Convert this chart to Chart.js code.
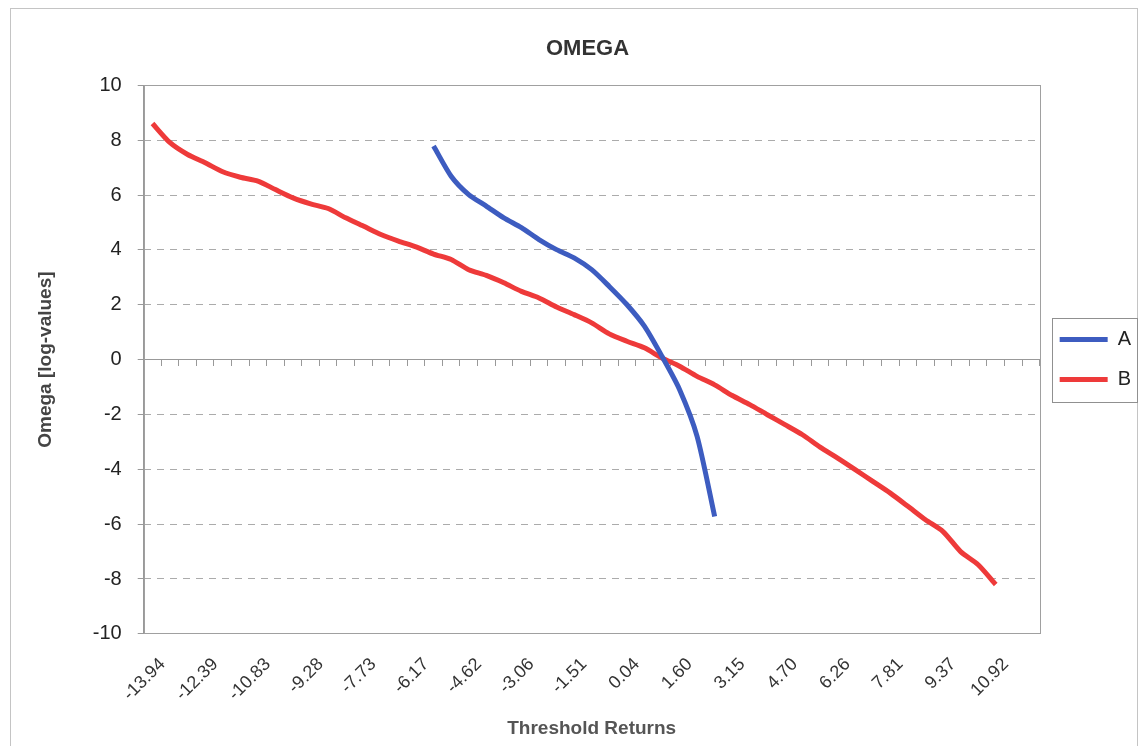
<!DOCTYPE html>
<html>
<head>
<meta charset="utf-8">
<title>OMEGA</title>
<script src="https://cdn.jsdelivr.net/npm/chart.js@4.4.1/dist/chart.umd.min.js"></script>
<style>
    html, body { margin: 0; padding: 0; background: #fff; }
</style>
</head>
<body>
<canvas id="chart" width="1141" height="746"></canvas>
<script>
// threshold returns (x categories), only every third one is labelled on the axis
const thresholds = [
    '-13.94', '-13.42', '-12.90', '-12.39', '-11.87', '-11.35', '-10.83', '-10.31', '-9.80', '-9.28',
    '-8.76', '-8.24', '-7.73', '-7.21', '-6.69', '-6.17', '-5.65', '-5.14', '-4.62', '-4.10',
    '-3.58', '-3.06', '-2.55', '-2.03', '-1.51', '-0.99', '-0.47', '0.04', '0.56', '1.08',
    '1.60', '2.12', '2.63', '3.15', '3.67', '4.19', '4.70', '5.22', '5.74', '6.26',
    '6.78', '7.29', '7.81', '8.33', '8.85', '9.37', '9.88', '10.40', '10.92', '11.44', '11.96'
];

const omegaA = [
    null, null, null, null, null, null, null, null, null, null,
    null, null, null, null, null, null, 7.79, 6.69, 6.02, 5.60,
    5.17, 4.81, 4.38, 4.01, 3.71, 3.28, 2.67, 2.01, 1.22, 0.12,
    -1.09, -2.80, -5.72, null, null, null, null, null, null, null,
    null, null, null, null, null, null, null, null, null, null, null
];

const omegaB = [
    8.61, 7.91, 7.48, 7.18, 6.85, 6.65, 6.51, 6.20, 5.90, 5.68,
    5.51, 5.17, 4.87, 4.56, 4.32, 4.11, 3.85, 3.65, 3.28, 3.07,
    2.80, 2.49, 2.25, 1.92, 1.64, 1.34, 0.94, 0.67, 0.43, 0.06,
    -0.24, -0.61, -0.92, -1.31, -1.64, -2.01, -2.37, -2.74, -3.19, -3.59,
    -4.01, -4.44, -4.87, -5.35, -5.84, -6.27, -7.00, -7.48, -8.20, null, null
];

const labelEvery = 3;
const fontFamily = "'Liberation Sans', Arial, sans-serif";

// outer chart border + plot area frame
const framePlugin = {
    id: 'frame',
    beforeDraw(chart) {
        const ctx = chart.ctx;
        ctx.save();
        ctx.strokeStyle = '#c4c4c4';
        ctx.lineWidth = 1;
        ctx.strokeRect(10.5, 8.5, chart.width - 14, chart.height + 20);
        ctx.restore();
    },
    beforeDatasetsDraw(chart) {
        const { ctx, chartArea: a } = chart;
        ctx.save();
        ctx.strokeStyle = '#a0a0a0';
        ctx.lineWidth = 1;
        ctx.strokeRect(Math.round(a.left) + 0.5, Math.round(a.top) + 0.5,
            Math.round(a.right - a.left), Math.round(a.bottom - a.top));
        ctx.restore();
    }
};

// box round the legend, like the spreadsheet one
const legendBoxPlugin = {
    id: 'legendBox',
    afterDraw(chart) {
        const boxes = chart.legend && chart.legend.legendHitBoxes;
        if (!boxes || !boxes.length) return;
        let l = Infinity, t = Infinity, r = -Infinity, b = -Infinity;
        boxes.forEach(h => {
            l = Math.min(l, h.left); t = Math.min(t, h.top);
            r = Math.max(r, h.left + h.width); b = Math.max(b, h.top + h.height);
        });
        const ctx = chart.ctx;
        ctx.save();
        ctx.strokeStyle = '#909090';
        ctx.lineWidth = 1;
        ctx.strokeRect(Math.round(l - 8) + 0.5, Math.round(t - 12) + 0.5,
            Math.round(r - l + 14), Math.round(b - t + 24));
        ctx.restore();
    }
};

new Chart(document.getElementById('chart'), {
    type: 'line',
    data: {
        labels: thresholds,
        datasets: [{
            label: 'A',
            data: omegaA,
            borderColor: '#3d5cc0',
            backgroundColor: '#3d5cc0',
            borderWidth: 5,
            pointRadius: 0,
            tension: 0.25,
            spanGaps: false
        }, {
            label: 'B',
            data: omegaB,
            borderColor: '#ee3a3a',
            backgroundColor: '#ee3a3a',
            borderWidth: 5,
            pointRadius: 0,
            tension: 0.25,
            spanGaps: false
        }]
    },
    options: {
        responsive: false,
        animation: false,
        devicePixelRatio: 1,
        layout: {
            padding: { left: 34, right: 0, top: 0, bottom: 6 }
        },
        plugins: {
            title: {
                display: true,
                text: 'OMEGA',
                color: '#333',
                font: { family: fontFamily, size: 22, weight: 'bold' },
                padding: { top: 36, bottom: 23 }
            },
            legend: {
                position: 'right',
                fullSize: false,
                labels: {
                    usePointStyle: true,
                    pointStyle: 'line',
                    pointStyleWidth: 48,
                    boxWidth: 48,
                    color: '#222',
                    font: { family: fontFamily, size: 20 },
                    padding: 20
                }
            },
            tooltip: { enabled: false }
        },
        scales: {
            x: {
                type: 'category',
                offset: true,
                grid: { display: false, offset: true },
                border: { display: false },
                ticks: {
                    autoSkip: false,
                    minRotation: 45,
                    maxRotation: 45,
                    color: '#333',
                    padding: 12,
                    labelOffset: 10,
                    font: { family: fontFamily, size: 18 },
                    callback: (val, idx) => idx % labelEvery === 0 ? thresholds[idx] : ''
                },
                title: {
                    display: true,
                    text: 'Threshold Returns',
                    color: '#555',
                    font: { family: fontFamily, size: 19, weight: 'bold' },
                    padding: { top: 0, bottom: 0 }
                }
            },
            xZero: {
                type: 'category',
                position: { y: 0 },
                offset: true,
                grid: { display: true, drawOnChartArea: false, offset: true, tickLength: 6, tickColor: '#999' },
                border: { display: true, color: '#999' },
                ticks: { display: false, autoSkip: false }
            },
            y: {
                min: -10,
                max: 10,
                ticks: {
                    stepSize: 2,
                    color: '#222',
                    padding: 16,
                    font: { family: fontFamily, size: 20 }
                },
                grid: { color: '#ababab', tickColor: '#999', tickLength: 6 },
                border: { display: true, color: '#999', dash: [7, 6] },
                title: {
                    display: true,
                    text: 'Omega [log-values]',
                    color: '#444',
                    font: { family: fontFamily, size: 19, weight: 'bold' },
                    padding: { top: 0, bottom: 20 }
                }
            }
        }
    },
    plugins: [framePlugin, legendBoxPlugin]
});
</script>
</body>
</html>
